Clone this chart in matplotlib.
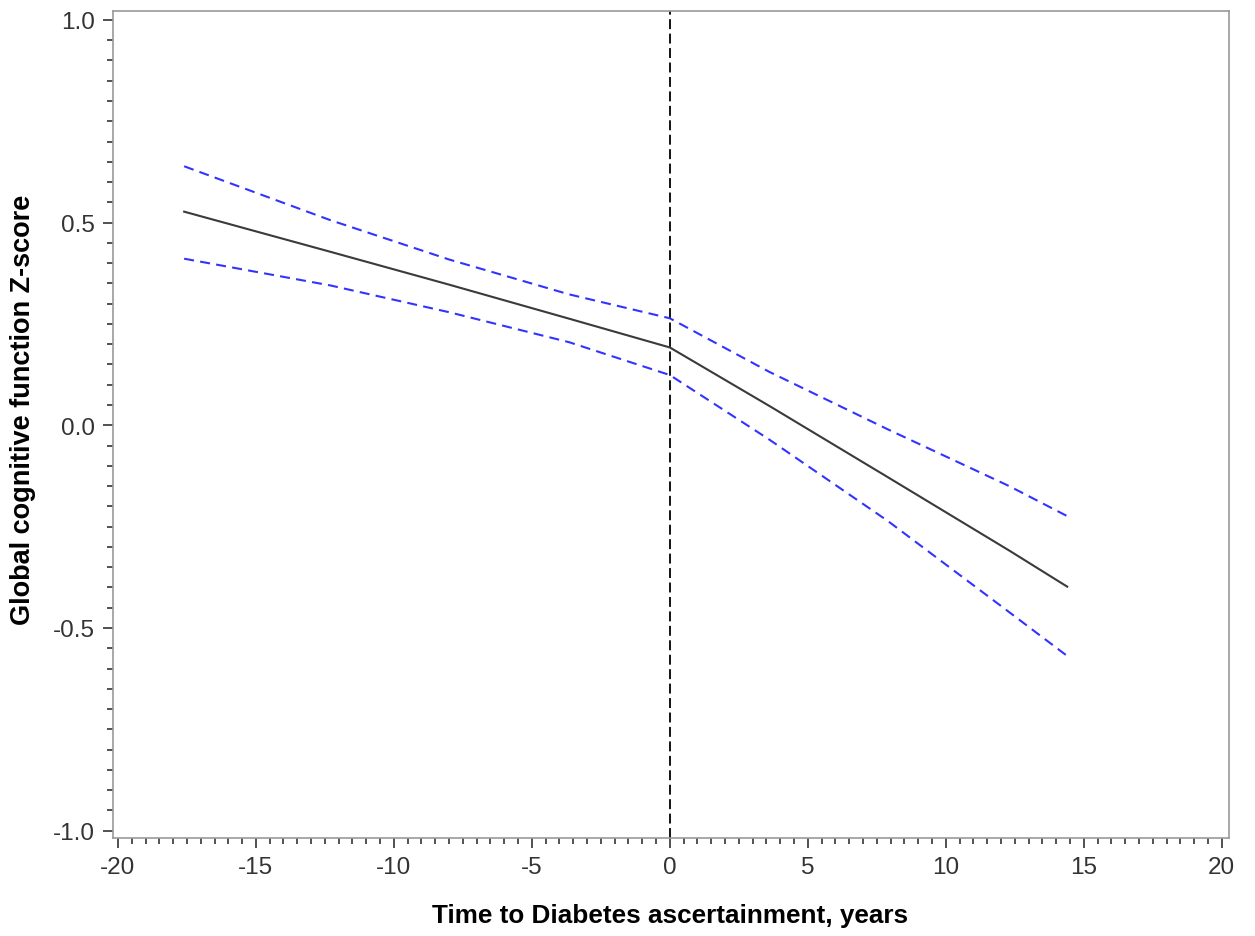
import numpy as np
import matplotlib.pyplot as plt
from matplotlib.ticker import MultipleLocator

plt.rcParams['font.family'] = ['Liberation Sans', 'DejaVu Sans']

# time to diabetes ascertainment (years) and fitted global cognitive Z-score
years = [-17.6, -12.3, -8.0, -3.65, 0.0, 3.6, 7.9, 12.3, 14.4]
fit = [0.527, 0.428, 0.347, 0.263, 0.192, 0.048, -0.128, -0.309, -0.398]
ci_upper = [0.639, 0.506, 0.409, 0.323, 0.264, 0.132, -0.010, -0.150, -0.224]
ci_lower = [0.411, 0.345, 0.279, 0.205, 0.124, -0.035, -0.236, -0.461, -0.569]

xticks = [-20, -15, -10, -5, 0, 5, 10, 15, 20]
yticks = [-1.0, -0.5, 0.0, 0.5, 1.0]

fig = plt.figure(figsize=(12.55, 9.37), dpi=100)
ax = fig.add_axes([0.090, 0.1046, 0.889, 0.8826])

ax.plot(years, fit, color='#3a3a3a', lw=1.5, zorder=3)
ax.plot(years, ci_upper, color='#3333ff', lw=1.5, dashes=(4.8, 3.0), zorder=3)
ax.plot(years, ci_lower, color='#3333ff', lw=1.5, dashes=(4.8, 3.0), zorder=3)
ax.axvline(0, color='black', lw=1.3, dashes=(5.5, 2.5), zorder=2)

ax.set_xlim(-20.18, 20.25)
ax.set_ylim(-1.018, 1.022)
ax.set_xticks(xticks)
ax.set_xticklabels([str(t) for t in xticks])
ax.set_yticks(yticks)
ax.set_yticklabels([f'{t:.1f}' for t in yticks])
ax.xaxis.set_minor_locator(MultipleLocator(0.5))
ax.yaxis.set_minor_locator(MultipleLocator(0.05))

ax.tick_params(which='major', direction='out', length=7, width=1.2, color='#333333',
               labelsize=17.5, labelcolor='#333333', pad=6)
ax.tick_params(which='minor', direction='out', length=4, width=1.2, color='#333333')

for sp in ax.spines.values():
    sp.set_color('#9a9a9a')
    sp.set_linewidth(1.2)

ax.set_xlabel('Time to Diabetes ascertainment, years', fontsize=18.8, fontweight='bold')
ax.set_ylabel('Global cognitive function Z-score', fontsize=19.5, fontweight='bold')
ax.xaxis.set_label_coords(0.499, -0.093)
ax.yaxis.set_label_coords(-0.081, 0.519)
ax.xaxis.label.set_va('center')
ax.yaxis.label.set_va('center')

fig.savefig('out.png', dpi=100)
